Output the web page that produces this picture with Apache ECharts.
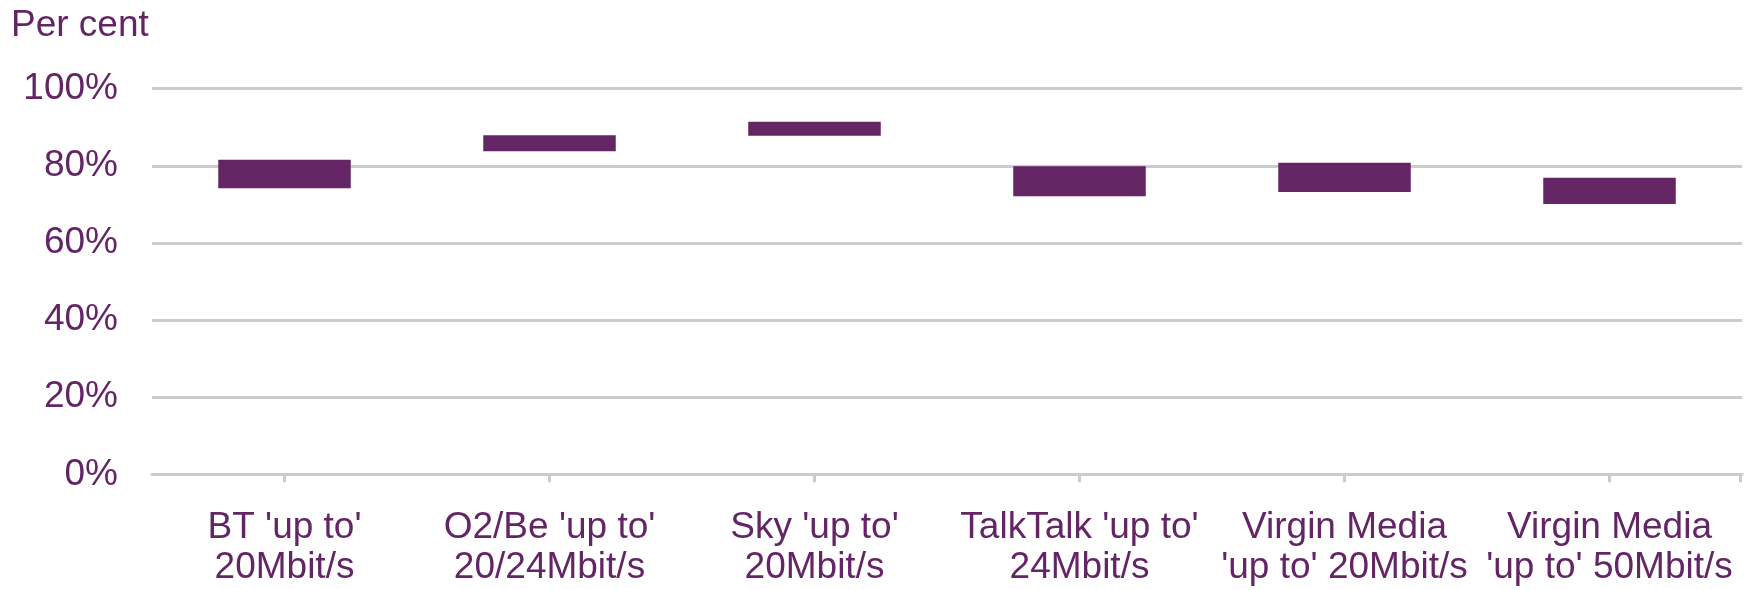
<!DOCTYPE html>
<html>
<head>
<meta charset="utf-8">
<style>
  html, body { margin: 0; padding: 0; background: #ffffff; }
  #chart { width: 1746px; height: 590px; }
</style>
<script src="https://cdn.jsdelivr.net/npm/echarts@6/dist/echarts.min.js"></script>
</head>
<body>
<div id="chart"></div>
<script>
// ---- Data ----
const categories = [
  "BT 'up to'\n20Mbit/s",
  "O2/Be 'up to'\n20/24Mbit/s",
  "Sky 'up to'\n20Mbit/s",
  "TalkTalk 'up to'\n24Mbit/s",
  "Virgin Media\n'up to' 20Mbit/s",
  "Virgin Media\n'up to' 50Mbit/s"
];
const lowValues  = [74.2, 83.8, 87.8, 72.1, 73.2, 70.1];
const highValues = [81.6, 87.9, 91.4, 79.9, 80.8, 76.9];
const yTicks = [0, 20, 40, 60, 80, 100];

// ---- Styling ----
const purple = '#632563';
const textColor = '#642566';
const gridGrey = '#cccccc';
const font = "'Liberation Sans', Arial, sans-serif";

const spans = highValues.map((h, i) => +(h - lowValues[i]).toFixed(2));

const chart = echarts.init(document.getElementById('chart'), null, { renderer: 'canvas' });
const option = {
  animation: false,
  backgroundColor: '#ffffff',
  title: {
    text: 'Per cent',
    left: 11,
    top: 7,
    padding: 0,
    textStyle: { color: textColor, fontFamily: font, fontSize: 37, fontWeight: 'normal', lineHeight: 38 }
  },
  grid: {
    left: 152, right: 4, top: 88.7, bottom: 115.7,
    containLabel: false,
    outerBoundsMode: 'none'
  },
  xAxis: {
    type: 'category',
    data: categories,
    boundaryGap: true,
    axisLine: { show: true, lineStyle: { color: gridGrey, width: 3 } },
    axisTick: { show: true, alignWithLabel: true, length: 8, lineStyle: { color: gridGrey, width: 3 } },
    axisLabel: {
      color: textColor, fontFamily: font, fontSize: 37, lineHeight: 40,
      margin: 33, interval: 0, hideOverlap: false
    },
    splitLine: { show: false }
  },
  yAxis: {
    type: 'value',
    min: yTicks[0],
    max: yTicks[yTicks.length - 1],
    interval: yTicks[1] - yTicks[0],
    axisLine: { show: false },
    axisTick: { show: false },
    axisLabel: {
      color: textColor, fontFamily: font, fontSize: 37, margin: 34,
      formatter: '{value}%'
    },
    splitLine: { show: true, lineStyle: { color: gridGrey, width: 3 } }
  },
  series: [
    {
      name: 'base',
      type: 'bar',
      stack: 'range',
      data: lowValues,
      barWidth: '50%',
      itemStyle: { color: 'rgba(0,0,0,0)' },
      silent: true
    },
    {
      name: 'range',
      type: 'bar',
      stack: 'range',
      data: spans,
      barWidth: '50%',
      itemStyle: { color: purple }
    }
  ]
};
chart.setOption(option);

// Extra tick at the right end of the category axis (as in the reference)
const c0 = chart.convertToPixel({ xAxisIndex: 0 }, 0);
const c1 = chart.convertToPixel({ xAxisIndex: 0 }, 1);
const cl = chart.convertToPixel({ xAxisIndex: 0 }, categories.length - 1);
const y0 = chart.convertToPixel({ yAxisIndex: 0 }, 0);
const xEnd = cl + (c1 - c0) / 2 - 1.5;
chart.setOption({
  graphic: [{
    type: 'line',
    shape: { x1: xEnd, y1: y0, x2: xEnd, y2: y0 + 8 },
    style: { stroke: gridGrey, lineWidth: 3 },
    silent: true
  }]
});
</script>
</body>
</html>
